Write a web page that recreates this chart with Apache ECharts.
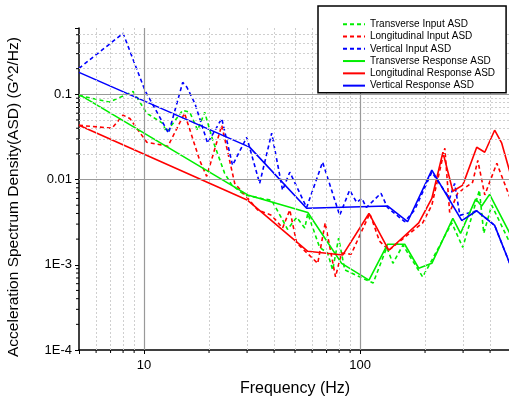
<!DOCTYPE html>
<html>
<head>
<meta charset="utf-8">
<script src="https://cdn.jsdelivr.net/npm/echarts@6/dist/echarts.min.js"></script>
<style>
  html, body { margin: 0; padding: 0; background: #fff; }
  #chart { width: 509px; height: 398px; }
</style>
</head>
<body>
<div id="chart"></div>
<script>
// [frequency Hz, ASD G^2/Hz]
const transverseInput = [
  [5, 0.097], [6.9, 0.081], [8.9, 0.108], [10.3, 0.06], [12.2, 0.0457], [12.7, 0.036],
  [15.1, 0.065], [16.3, 0.0615], [17.7, 0.038], [19.1, 0.0615], [20.8, 0.029], [23.6, 0.0119],
  [25.5, 0.0086], [29.2, 0.0066], [35.1, 0.006], [39, 0.0057], [43.4, 0.0035], [46.2, 0.0026],
  [50.9, 0.0036], [55.5, 0.0027], [57.3, 0.004], [65, 0.0016], [70.8, 0.00137], [74.7, 0.00087],
  [79.6, 0.00205], [85, 0.00087], [115, 0.00061], [133, 0.0016], [142, 0.00104], [158, 0.0017],
  [195, 0.00072], [215, 0.00113], [266, 0.0031], [299, 0.0016], [357, 0.0075], [374, 0.00234],
  [407, 0.005], [500, 0.0017]
];
const longitudinalInput = [
  [5, 0.0433], [7.1, 0.04], [8, 0.057], [8.6, 0.052], [10.3, 0.0274], [12.9, 0.0246],
  [15.4, 0.06], [18.1, 0.0168], [19.5, 0.0109], [22.9, 0.0433], [26.3, 0.009], [30.8, 0.0057],
  [33.6, 0.0044], [39, 0.0038], [43.8, 0.0027], [47.3, 0.0044], [50.9, 0.0018], [63.7, 0.00104],
  [69, 0.0031], [77, 0.00072], [82, 0.00137], [91, 0.00133], [111, 0.004], [123, 0.0019],
  [136, 0.00148], [161, 0.0021], [195, 0.0031], [215, 0.005], [247, 0.0233], [260, 0.0041],
  [283, 0.0069], [332, 0.0093], [351, 0.0168], [378, 0.0066], [430, 0.0155], [500, 0.0057]
];
const verticalInput = [
  [5, 0.202], [8, 0.52], [10.1, 0.111], [13, 0.035], [15.1, 0.138], [15.8, 0.121],
  [17.2, 0.078], [19.7, 0.0267], [22.9, 0.052], [25.7, 0.0147], [29.9, 0.0313], [34.3, 0.009],
  [39, 0.035], [43.8, 0.0075], [47.3, 0.0122], [56.6, 0.0047], [67.1, 0.016], [80.5, 0.0038],
  [89.5, 0.0075], [96.5, 0.0054], [102, 0.006], [107, 0.0047], [125, 0.0069], [134, 0.0047],
  [161, 0.0032], [179, 0.0044], [215, 0.0122], [260, 0.006], [274, 0.009], [290, 0.0038],
  [347, 0.0043], [420, 0.0029], [500, 0.00095]
];
const transverseResponse = [
  [5, 0.1], [30.2, 0.0066], [57.3, 0.0041], [82.2, 0.00104], [110, 0.00066], [134, 0.00174],
  [161, 0.00174], [187, 0.00091], [215, 0.00104], [269, 0.0035], [292, 0.00234], [343, 0.0059],
  [366, 0.0049], [398, 0.0067], [500, 0.0022]
];
const longitudinalResponse = [
  [5, 0.0433], [30.2, 0.0057], [57.3, 0.00144], [83.1, 0.0013], [110, 0.004], [136, 0.00148],
  [187, 0.0031], [215, 0.006], [242, 0.0209], [269, 0.0073], [299, 0.0086], [347, 0.0239],
  [378, 0.0209], [420, 0.0379], [453, 0.0267], [500, 0.011]
];
const verticalResponse = [
  [5, 0.181], [30.8, 0.024], [56.6, 0.0046], [134, 0.0049], [166, 0.0032], [215, 0.0129],
  [296, 0.0033], [347, 0.0043], [420, 0.0029], [500, 0.00095]
];

const xMajorTicks = [10, 100];
const xMinorTicks = [6, 7, 8, 9, 20, 30, 40, 50, 60, 70, 80, 90, 200, 300, 400];
const yMajorTicks = [0.001, 0.01, 0.1];
const yMinorTicks = [
  0.0002, 0.0003, 0.0004, 0.0005, 0.0006, 0.0007, 0.0008, 0.0009,
  0.002, 0.003, 0.004, 0.005, 0.006, 0.007, 0.008, 0.009,
  0.02, 0.03, 0.04, 0.05, 0.06, 0.07, 0.08, 0.09,
  0.2, 0.3, 0.4, 0.5
];

const GREEN = '#00ee00';
const RED = '#ff0000';
const BLUE = '#0000ff';
const font = 'Arial, "Liberation Sans", sans-serif';

const chart = echarts.init(document.getElementById('chart'));

const minorGrid = { color: '#cfcfcf', width: 1, type: [2, 2] };
const majorGrid = { color: '#999999', width: 1.2, type: 'solid' };

const gridLines = [].concat(
  xMinorTicks.map(v => ({ xAxis: v, lineStyle: minorGrid })),
  yMinorTicks.map(v => ({ yAxis: v, lineStyle: minorGrid })),
  xMajorTicks.map(v => ({ xAxis: v, lineStyle: majorGrid })),
  yMajorTicks.map(v => ({ yAxis: v, lineStyle: majorGrid }))
);

function isPow10(v) {
  const l = Math.log10(v);
  return Math.abs(l - Math.round(l)) < 1e-6;
}

function line(name, data, color, dashed) {
  return {
    name: name,
    type: 'line',
    data: data,
    symbol: 'none',
    z: 3,
    lineStyle: { color: color, width: 1.6, type: dashed ? [4, 3] : 'solid' },
    itemStyle: { color: color }
  };
}

function minorTick(data, horizontal) {
  return {
    type: 'custom',
    silent: true,
    z: 4,
    data: data,
    renderItem: function (params, api) {
      const p = api.coord([api.value(0), api.value(1)]);
      const shape = horizontal
        ? { x1: p[0] - 3, y1: p[1], x2: p[0], y2: p[1] }
        : { x1: p[0], y1: p[1], x2: p[0], y2: p[1] + 3 };
      return { type: 'line', shape: shape, style: { stroke: '#000', lineWidth: 1 } };
    }
  };
}

const names = [
  'Transverse Input ASD', 'Longitudinal Input ASD', 'Vertical Input ASD',
  'Transverse Response ASD', 'Longitudinal Response ASD', 'Vertical Response ASD'
];

chart.setOption({
  animation: false,
  grid: { left: 79, top: 28, right: -2, bottom: 48, containLabel: false, outerBoundsMode: 'none' },
  legend: {
    data: names,
    orient: 'vertical',
    left: 318,
    top: 6,
    itemWidth: 22,
    itemHeight: 10,
    itemGap: 0,
    padding: [12, 11, 1, 24],
    borderColor: '#000',
    borderWidth: 1.5,
    backgroundColor: '#fff',
    z: 10,
    itemStyle: { opacity: 0 },
    textStyle: { fontSize: 10, color: '#000', fontFamily: font, lineHeight: 12.3 }
  },
  xAxis: {
    type: 'log',
    min: 5,
    max: 500,
    name: 'Frequency (Hz)',
    nameLocation: 'middle',
    nameGap: 31,
    nameTextStyle: { fontSize: 16, color: '#000', fontFamily: font },
    axisLine: { lineStyle: { color: '#000', width: 1.5 } },
    axisTick: { length: 4, lineStyle: { color: '#000' } },
    axisLabel: {
      fontSize: 13, color: '#000', fontFamily: font, margin: 9,
      formatter: v => (isPow10(v) ? String(Math.round(v)) : '')
    },
    splitLine: { show: false }
  },
  yAxis: {
    type: 'log',
    min: 0.0001,
    max: 0.6,
    name: 'Acceleration Spectrum Density(ASD) (G^2/Hz)',
    nameLocation: 'middle',
    nameGap: 57,
    nameTextStyle: { fontSize: 15.5, color: '#000', fontFamily: font, padding: [0, 16, 0, 0] },
    axisLine: { show: true, lineStyle: { color: '#000', width: 1.5 } },
    axisTick: { show: true, length: 4, lineStyle: { color: '#000' } },
    axisLabel: {
      fontSize: 13, color: '#000', fontFamily: font, margin: 7,
      formatter: function (v) {
        if (!isPow10(v)) return '';
        return v >= 0.01 ? String(v) : '1E' + Math.round(Math.log10(v));
      }
    },
    splitLine: { show: false }
  },
  series: [
    {
      type: 'line',
      data: [[5, 0.0001]],
      symbol: 'none',
      silent: true,
      z: 1,
      lineStyle: { opacity: 0 },
      markLine: {
        silent: true,
        symbol: 'none',
        label: { show: false },
        animation: false,
        data: gridLines
      }
    },
    line(names[0], transverseInput, GREEN, true),
    line(names[1], longitudinalInput, RED, true),
    line(names[2], verticalInput, BLUE, true),
    line(names[3], transverseResponse, GREEN, false),
    line(names[4], longitudinalResponse, RED, false),
    line(names[5], verticalResponse, BLUE, false),
    minorTick(yMinorTicks.map(v => [5, v]), true),
    minorTick(xMinorTicks.map(v => [v, 0.0001]), false)
  ]
});
</script>
</body>
</html>
